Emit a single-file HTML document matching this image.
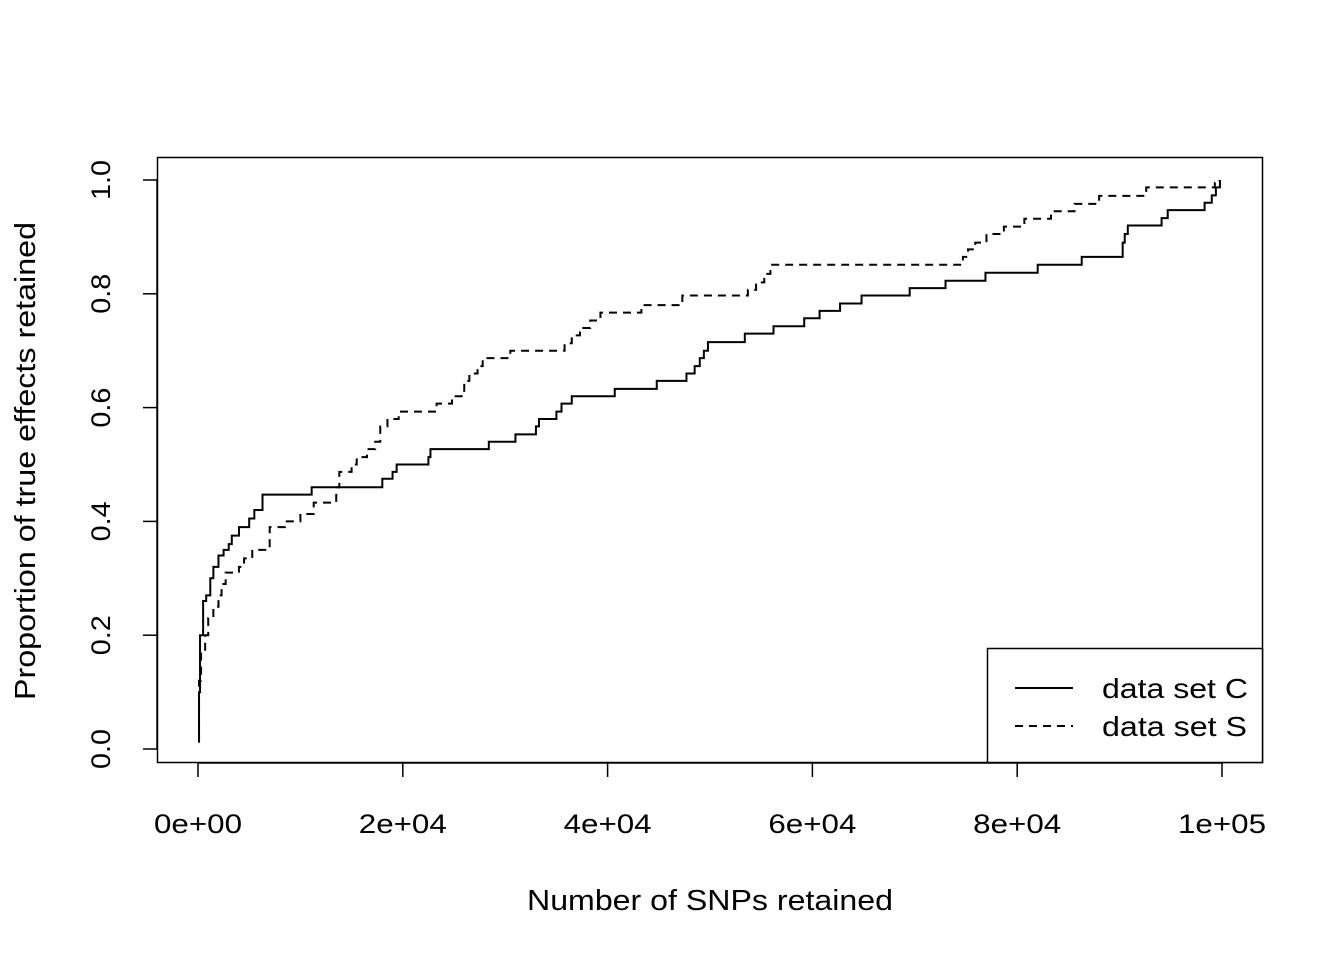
<!DOCTYPE html>
<html><head><meta charset="utf-8"><style>
body{margin:0;background:#fff}
svg{display:block;font-family:"Liberation Sans",Arial,sans-serif}
</style></head><body>
<svg id="chart" width="1344" height="960" viewBox="0 0 1344 960" xmlns="http://www.w3.org/2000/svg">
<rect width="1344" height="960" fill="#fff"/>
<g id="plot"></g>
</svg>
<script>
const xTicks=[0,20000,40000,60000,80000,100000];
const xTickLabels=["0e+00","2e+04","4e+04","6e+04","8e+04","1e+05"];
const yTicks=[0,0.2,0.4,0.6,0.8,1.0];
const yTickLabels=["0.0","0.2","0.4","0.6","0.8","1.0"];
const cX=[0,100,200,500,800,1200,1500,2000,2500,3000,3300,4000,5000,5500,6300,11100,18000,19000,19400,22500,22700,28400,31000,33000,33300,35000,35500,36500,40700,44800,47700,48500,49000,49400,49800,53400,56200,59200,60700,62700,64800,69500,73000,76900,82000,86300,90300,90500,90800,94100,94700,98300,99000,99400,99800];
const cY=[0.013,0.1,0.2,0.26,0.27,0.3,0.32,0.34,0.35,0.36,0.375,0.39,0.405,0.42,0.447,0.46,0.475,0.487,0.5,0.513,0.527,0.54,0.553,0.567,0.58,0.593,0.607,0.62,0.633,0.647,0.66,0.673,0.687,0.7,0.715,0.73,0.743,0.757,0.77,0.783,0.797,0.81,0.823,0.837,0.851,0.865,0.89,0.905,0.92,0.933,0.947,0.96,0.973,0.987,1.0];
const sX=[0,100,300,700,1000,1500,2000,2300,2700,4000,4500,5300,7000,8500,10000,11300,13500,13800,15000,15500,16500,17300,17800,18500,19600,23300,24800,26000,26500,27300,27800,30500,35800,36500,37300,38300,39300,43300,47300,53700,54500,55300,55900,74700,75200,75900,77000,78700,80700,83300,85600,88000,92600,99300,99700];
const sY=[0.013,0.12,0.17,0.2,0.23,0.25,0.27,0.29,0.31,0.32,0.335,0.35,0.39,0.4,0.413,0.433,0.46,0.487,0.5,0.513,0.527,0.54,0.567,0.58,0.593,0.607,0.62,0.647,0.66,0.673,0.687,0.7,0.713,0.727,0.74,0.753,0.767,0.78,0.797,0.807,0.82,0.835,0.851,0.865,0.878,0.89,0.905,0.918,0.932,0.945,0.958,0.972,0.987,0.995,1.0];
const NS="http://www.w3.org/2000/svg";
const g=document.getElementById('plot');
const X=v=>198+v/100000*1024;
const Y=v=>749-v*569;
function mk(t,a,txt){const e=document.createElementNS(NS,t);for(const k in a)e.setAttribute(k,a[k]);if(txt!==undefined)e.textContent=txt;g.appendChild(e);return e;}
let e;
e=mk('rect',{x:157.5,y:157.5,width:1105,height:605,fill:'none',stroke:'#000','stroke-width':1.5});


e=mk('line',{x1:X(0),x2:X(100000),y1:763,y2:763,stroke:'#000','stroke-width':1.5});


xTicks.forEach((t,i)=>{
 e=mk('line',{x1:X(t),x2:X(t),y1:763,y2:777,stroke:'#000','stroke-width':1.5});
 
 
 e=mk('text',{x:X(t),y:833,'text-anchor':'middle','font-size':27,textLength:88,lengthAdjust:'spacingAndGlyphs'},xTickLabels[i]);
 
 
});
e=mk('line',{x1:157,x2:157,y1:Y(0),y2:Y(1),stroke:'#000','stroke-width':1.5});


yTicks.forEach((t,i)=>{
 e=mk('line',{x1:143,x2:157,y1:Y(t),y2:Y(t),stroke:'#000','stroke-width':1.5});
 
 
 e=mk('text',{x:0,y:0,'text-anchor':'middle','font-size':27,textLength:40,lengthAdjust:'spacingAndGlyphs',transform:`translate(110,${Y(t)}) rotate(-90)`},yTickLabels[i]);
 
 
});
e=mk('text',{x:710,y:910,'text-anchor':'middle','font-size':29,textLength:366,lengthAdjust:'spacingAndGlyphs'},'Number of SNPs retained');


e=mk('text',{x:0,y:0,'text-anchor':'middle','font-size':29,textLength:478,lengthAdjust:'spacingAndGlyphs',transform:'translate(35,461) rotate(-90)'},'Proportion of true effects retained');


function stepPath(xs,ys){let d=`M${X(xs[0])},${Y(ys[0])}`;for(let i=1;i<xs.length;i++){d+=` H${X(xs[i])} V${Y(ys[i])}`;}return d;}
e=mk('path',{d:stepPath(cX,cY),fill:'none',stroke:'#000','stroke-width':2});


e=mk('path',{d:stepPath(sX,sY),fill:'none',stroke:'#000','stroke-width':2,'stroke-dasharray':'8,6'});


e=mk('rect',{x:987.5,y:648.5,width:275,height:114,fill:'#fff',stroke:'#000','stroke-width':1.5});


e=mk('line',{x1:1015,x2:1073,y1:688,y2:688,stroke:'#000','stroke-width':2});


e=mk('text',{x:1102,y:698,'font-size':28,textLength:146,lengthAdjust:'spacingAndGlyphs'},'data set C');


e=mk('line',{x1:1015,x2:1073,y1:726,y2:726,stroke:'#000','stroke-width':2,'stroke-dasharray':'8,6'});


e=mk('text',{x:1102,y:736,'font-size':28,textLength:145,lengthAdjust:'spacingAndGlyphs'},'data set S');


</script>
</body></html>
